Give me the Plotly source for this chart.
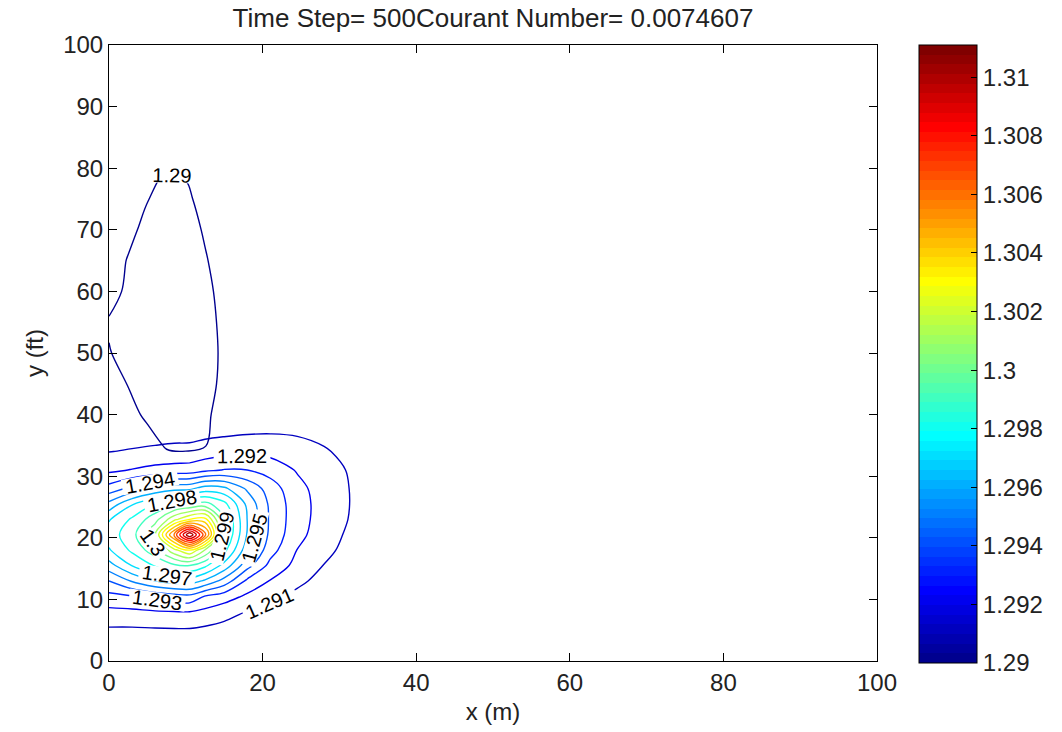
import plotly.graph_objects as go

# ---- main plume: gridded concentration field (x in m, y in ft) ----
plume_x = [0, 3, 6, 8.5, 10.5, 12.5, 15, 18, 21, 24.5, 28, 31.5, 35]
plume_y = [2, 5, 8, 10.5, 13, 15.5, 18, 20.5, 23, 25.5, 28, 31, 34, 37, 40]
plume_z = [
    [1.2904, 1.2904, 1.2904, 1.2904, 1.2904, 1.2904, 1.2904, 1.29035, 1.2903, 1.2903, 1.2903, 1.2903, 1.2903],
    [1.29085, 1.29084, 1.29088, 1.2909, 1.2909, 1.29079, 1.29063, 1.29045, 1.2904, 1.2903, 1.2903, 1.2903, 1.2903],
    [1.29175, 1.2918, 1.29192, 1.29198, 1.292, 1.29176, 1.2914, 1.29097, 1.29072, 1.2904, 1.2903, 1.2903, 1.2903],
    [1.2927, 1.29295, 1.29335, 1.2936, 1.29375, 1.29295, 1.29248, 1.29182, 1.29127, 1.29076, 1.2904, 1.2903, 1.2903],
    [1.294, 1.2951, 1.296, 1.29645, 1.2965, 1.29585, 1.2946, 1.2928, 1.29195, 1.29122, 1.29068, 1.2904, 1.2903],
    [1.2956, 1.29705, 1.2981, 1.2988, 1.299, 1.29823, 1.29665, 1.29437, 1.2927, 1.2917, 1.29097, 1.29048, 1.2903],
    [1.2969, 1.2982, 1.2996, 1.3017, 1.303, 1.30095, 1.2983, 1.2954, 1.2934, 1.29198, 1.29128, 1.29064, 1.2903],
    [1.2975, 1.2986, 1.301, 1.3063, 1.311, 1.3064, 1.2992, 1.29592, 1.29376, 1.2923, 1.29147, 1.29079, 1.2903],
    [1.2969, 1.29815, 1.2996, 1.3017, 1.303, 1.3034, 1.2992, 1.29598, 1.29383, 1.29242, 1.29156, 1.29093, 1.29035],
    [1.2953, 1.2969, 1.29805, 1.2988, 1.299, 1.29933, 1.2983, 1.29575, 1.29378, 1.29243, 1.29159, 1.29097, 1.29035],
    [1.2934, 1.2943, 1.29515, 1.29565, 1.29575, 1.29645, 1.29622, 1.29483, 1.2935, 1.2923, 1.29155, 1.29096, 1.29035],
    [1.29178, 1.29205, 1.2923, 1.2924, 1.29244, 1.29276, 1.29305, 1.293, 1.2926, 1.29192, 1.2914, 1.2909, 1.29035],
    [1.29098, 1.29108, 1.29119, 1.29128, 1.2913, 1.29148, 1.29162, 1.29172, 1.2917, 1.29147, 1.2911, 1.29072, 1.2903],
    [1.2905, 1.29057, 1.29062, 1.29066, 1.29067, 1.29076, 1.29085, 1.29094, 1.29097, 1.2909, 1.29075, 1.2905, 1.2903],
    [1.2904, 1.2904, 1.2904, 1.2904, 1.2904, 1.2904, 1.2904, 1.29045, 1.2905, 1.2905, 1.29042, 1.2903, 1.2903],
]

# ---- upper lobe enclosed by the 1.29 level ----
lobe_x = [0, 2.5, 5, 7.5, 10, 12.5, 15, 17.5]
lobe_y = [30, 35, 40, 45, 50, 55, 60, 65, 70, 75, 80, 85]
lobe_z = [
    [1.2905, 1.2905, 1.2904, 1.29035, 1.29035, 1.2904, 1.2905, 1.2905],
    [1.2905, 1.29045, 1.2902, 1.28995, 1.28992, 1.28998, 1.29022, 1.29047],
    [1.29041, 1.29016, 1.28991, 1.28966, 1.28967, 1.28992, 1.29017, 1.29042],
    [1.29023, 1.28998, 1.28973, 1.2895, 1.2896, 1.28985, 1.2901, 1.29035],
    [1.29003, 1.28981, 1.28956, 1.2895, 1.28958, 1.28983, 1.29008, 1.29033],
    [1.28994, 1.28975, 1.2895, 1.2895, 1.2896, 1.28985, 1.2901, 1.29035],
    [1.29025, 1.28987, 1.28962, 1.2895, 1.28964, 1.28989, 1.29014, 1.29039],
    [1.29024, 1.28997, 1.28975, 1.2895, 1.28971, 1.28996, 1.29021, 1.29046],
    [1.29037, 1.29012, 1.28987, 1.28962, 1.2898, 1.29005, 1.2903, 1.2905],
    [1.2905, 1.29027, 1.29002, 1.28977, 1.28991, 1.29016, 1.29041, 1.2905],
    [1.2905, 1.2905, 1.2903, 1.29003, 1.29006, 1.2904, 1.2905, 1.2905],
    [1.2905, 1.2905, 1.2905, 1.2905, 1.2905, 1.2905, 1.2905, 1.2905],
]

# contour levels and colour range
level_min = 1.29
level_max = 1.311
level_step = 0.001
color_min = 1.29
color_max = 1.3111
cbar_ticks = [1.29, 1.292, 1.294, 1.296, 1.298, 1.3, 1.302, 1.304, 1.306, 1.308, 1.31]

title_text = "Time Step= 500Courant Number= 0.0074607"
FONT = "Liberation Sans, Arial, Helvetica, sans-serif"

# plot-area geometry in pixels
FIG_W, FIG_H = 1062, 732
PLOT_L, PLOT_R, PLOT_T, PLOT_B = 109, 881, 45, 661
CB_L, CB_W, CB_T, CB_B = 923, 58, 45, 663


def jet_rgb(t):
    def clip(v):
        return max(0.0, min(1.0, v))
    r = clip(1.5 - abs(4 * t - 3))
    g = clip(1.5 - abs(4 * t - 2))
    b = clip(1.5 - abs(4 * t - 1))
    return f"rgb({round(r*255)},{round(g*255)},{round(b*255)})"


def jet_bands(n=64):
    """Banded jet colormap (n flat steps) as a plotly colorscale."""
    scale = []
    for i in range(n):
        c = jet_rgb((i + 1) / n)
        scale.append([i / n, c])
        scale.append([(i + 1) / n, c])
    return scale


JET = jet_bands()
LOBE_COLOR = jet_rgb(1 / 64)

fig = go.Figure()

label_font = dict(size=20, color="black", family=FONT)

fig.add_trace(go.Contour(
    x=plume_x, y=plume_y, z=plume_z,
    colorscale=JET, zmin=color_min, zmax=color_max, zauto=False,
    autocontour=False,
    contours=dict(start=level_min, end=level_max, size=level_step,
                  coloring="lines", showlabels=True, labelfont=label_font),
    line=dict(width=1.4, smoothing=1.0),
    showscale=False, hoverinfo="skip",
))

fig.add_trace(go.Contour(
    x=lobe_x, y=lobe_y, z=lobe_z,
    colorscale=[[0, LOBE_COLOR], [1, LOBE_COLOR]],
    autocontour=False,
    contours=dict(start=level_min, end=level_min, size=level_step,
                  coloring="lines", showlabels=True, labelfont=label_font),
    line=dict(width=1.4, smoothing=1.0),
    showscale=False, hoverinfo="skip",
))

plot_w = PLOT_R - PLOT_L
plot_h = PLOT_B - PLOT_T

# colour bar carrier
fig.add_trace(go.Scatter(
    x=[None], y=[None], mode="markers", showlegend=False, hoverinfo="skip",
    marker=dict(
        color=[color_min, color_max], colorscale=JET, cmin=color_min, cmax=color_max,
        showscale=True,
        colorbar=dict(
            x=(CB_L - PLOT_L) / plot_w, xanchor="left", xpad=0,
            y=1.0, yanchor="top", ypad=0,
            len=(CB_B - CB_T) / plot_h, lenmode="fraction",
            thickness=CB_W, thicknessmode="pixels",
            outlinewidth=1, outlinecolor="black",
            ticks="inside", ticklen=6, tickcolor="black",
            tickvals=cbar_ticks,
            tickfont=dict(size=24, color="#222222", family=FONT),
        ),
    ),
))

axis_common = dict(
    showline=True, linecolor="black", linewidth=1, mirror="ticks",
    ticks="inside", ticklen=8, tickcolor="black",
    showgrid=False, zeroline=False,
    tickfont=dict(size=24, color="#222222", family=FONT),
    range=[0, 100], fixedrange=True,
)

fig.update_layout(
    width=FIG_W, height=FIG_H, autosize=False,
    margin=dict(l=PLOT_L, r=FIG_W - PLOT_R, t=PLOT_T, b=FIG_H - PLOT_B),
    paper_bgcolor="white", plot_bgcolor="white",
    font=dict(family=FONT, color="#222222"),
    title=dict(text=title_text, x=0.5, xref="paper", xanchor="center",
               y=1 - 18 / FIG_H, yref="container", yanchor="middle",
               font=dict(size=26, color="#222222", family=FONT)),
    xaxis=dict(axis_common, dtick=20, tick0=0,
               title=dict(text="x (m)", font=dict(size=24, family=FONT), standoff=8)),
    yaxis=dict(axis_common, dtick=10, tick0=0,
               title=dict(text="y (ft)", font=dict(size=24, family=FONT), standoff=12)),
    showlegend=False,
)

fig.write_html("out.html")
